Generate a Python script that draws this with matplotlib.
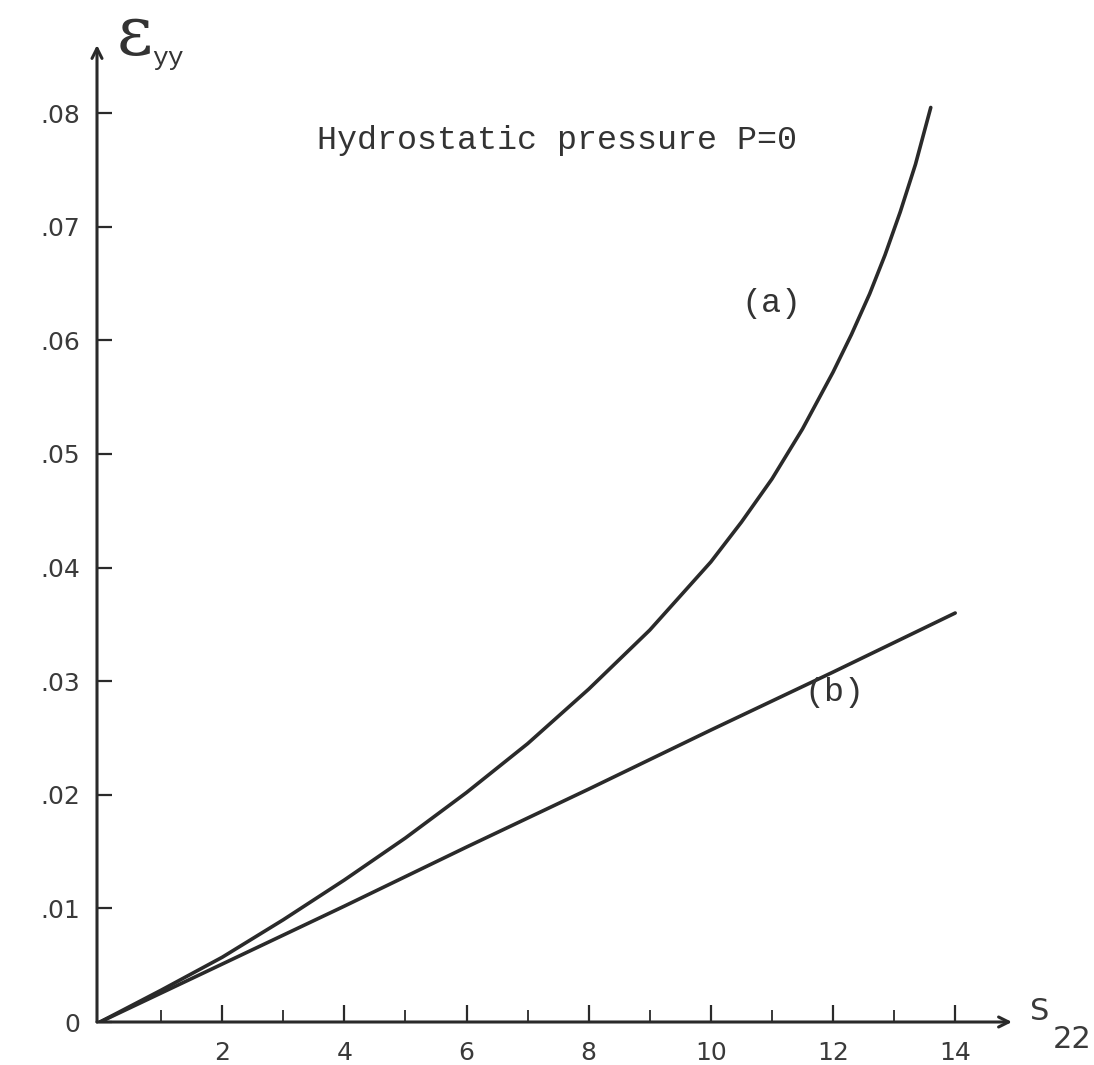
import numpy as np
import matplotlib
matplotlib.use("Agg")
import matplotlib.pyplot as plt

# curve (a): strain grows faster than linear
s_a = [0, 1, 2, 3, 4, 5, 6, 7, 8, 9, 10, 10.5, 11, 11.5, 12, 12.3, 12.6,
       12.85, 13.1, 13.35, 13.6]
eps_a = [0, 0.0028, 0.0057, 0.0090, 0.0125, 0.0162, 0.0202, 0.0245,
         0.0293, 0.0345, 0.0405, 0.0440, 0.0478, 0.0522, 0.0572, 0.0605,
         0.0641, 0.0675, 0.0713, 0.0755, 0.0805]

# curve (b): nearly straight
s_b = [0, 2, 4, 6, 8, 10, 12, 14]
eps_b = [0, 0.0051, 0.0102, 0.0154, 0.0205, 0.0257, 0.0308, 0.0360]

x_ticks = [2, 4, 6, 8, 10, 12, 14]
y_ticks = [0, 0.01, 0.02, 0.03, 0.04, 0.05, 0.06, 0.07, 0.08]
y_labels = ["0", ".01", ".02", ".03", ".04", ".05", ".06", ".07", ".08"]

W, H = 1094, 1065
fig = plt.figure(figsize=(W / 100, H / 100), dpi=100)
ax = fig.add_axes([97 / W, (H - 1022) / H, (1012 - 97) / W, (1022 - 45) / H])
ax.set_xlim(-0.05, 14.93)
ax.set_ylim(0, 0.086)

for sp in ax.spines.values():
    sp.set_visible(False)

ink = "#2a2a2a"

# axes drawn as arrows
ax.annotate("", xy=(1, 0), xytext=(0, 0), xycoords="axes fraction",
            arrowprops=dict(arrowstyle="->", lw=2.2, color=ink,
                            mutation_scale=18, shrinkA=0, shrinkB=0))
ax.annotate("", xy=(0, 1), xytext=(0, 0), xycoords="axes fraction",
            arrowprops=dict(arrowstyle="->", lw=2.2, color=ink,
                            mutation_scale=18, shrinkA=0, shrinkB=0))

ax.plot(s_a, eps_a, color=ink, lw=2.6, solid_capstyle="round",
        solid_joinstyle="round")
ax.plot(s_b, eps_b, color=ink, lw=2.6, solid_capstyle="round")

tick_font = dict(family="DejaVu Sans", size=18)
ax.set_xticks(x_ticks)
ax.set_xticklabels([str(v) for v in x_ticks], **tick_font, color="#3a3a3a")
ax.set_xticks(range(1, 15, 2), minor=True)
ax.set_yticks(y_ticks)
ax.set_yticklabels(y_labels, **tick_font, color="#3a3a3a")
ax.tick_params(axis="x", which="major", direction="in", length=12, width=1.6,
               pad=14, color=ink)
ax.tick_params(axis="x", which="minor", direction="in", length=9, width=1.3,
               color=ink)
ax.tick_params(axis="y", direction="in", length=11, width=1.6, pad=12,
               color=ink)

mono = dict(family="Liberation Mono", color="#333333")
fig.text(317 / W, 1 - 140 / H, "Hydrostatic pressure P=0", ha="left",
         va="center", fontsize=24, **mono)
fig.text(771 / W, 1 - 303 / H, "(a)", ha="center", va="center",
         fontsize=24, **mono)
fig.text(834 / W, 1 - 693 / H, "(b)", ha="center", va="center",
         fontsize=24, **mono)

# axis labels
fig.text(135 / W, 1 - 36 / H, "\u03b5", ha="center", va="center",
         fontsize=50, family="DejaVu Serif", color="#333333")
fig.text(152 / W, 1 - 58 / H, "yy", ha="left", va="center",
         fontsize=19, **mono)
fig.text(1030 / W, 1 - 1012 / H, "S", ha="left", va="center",
         fontsize=22, family="DejaVu Sans", color="#3a3a3a")
fig.text(1053 / W, 1 - 1040 / H, "22", ha="left", va="center",
         fontsize=22, family="DejaVu Sans", color="#3a3a3a")

fig.savefig("out.png", dpi=100, facecolor="white")
